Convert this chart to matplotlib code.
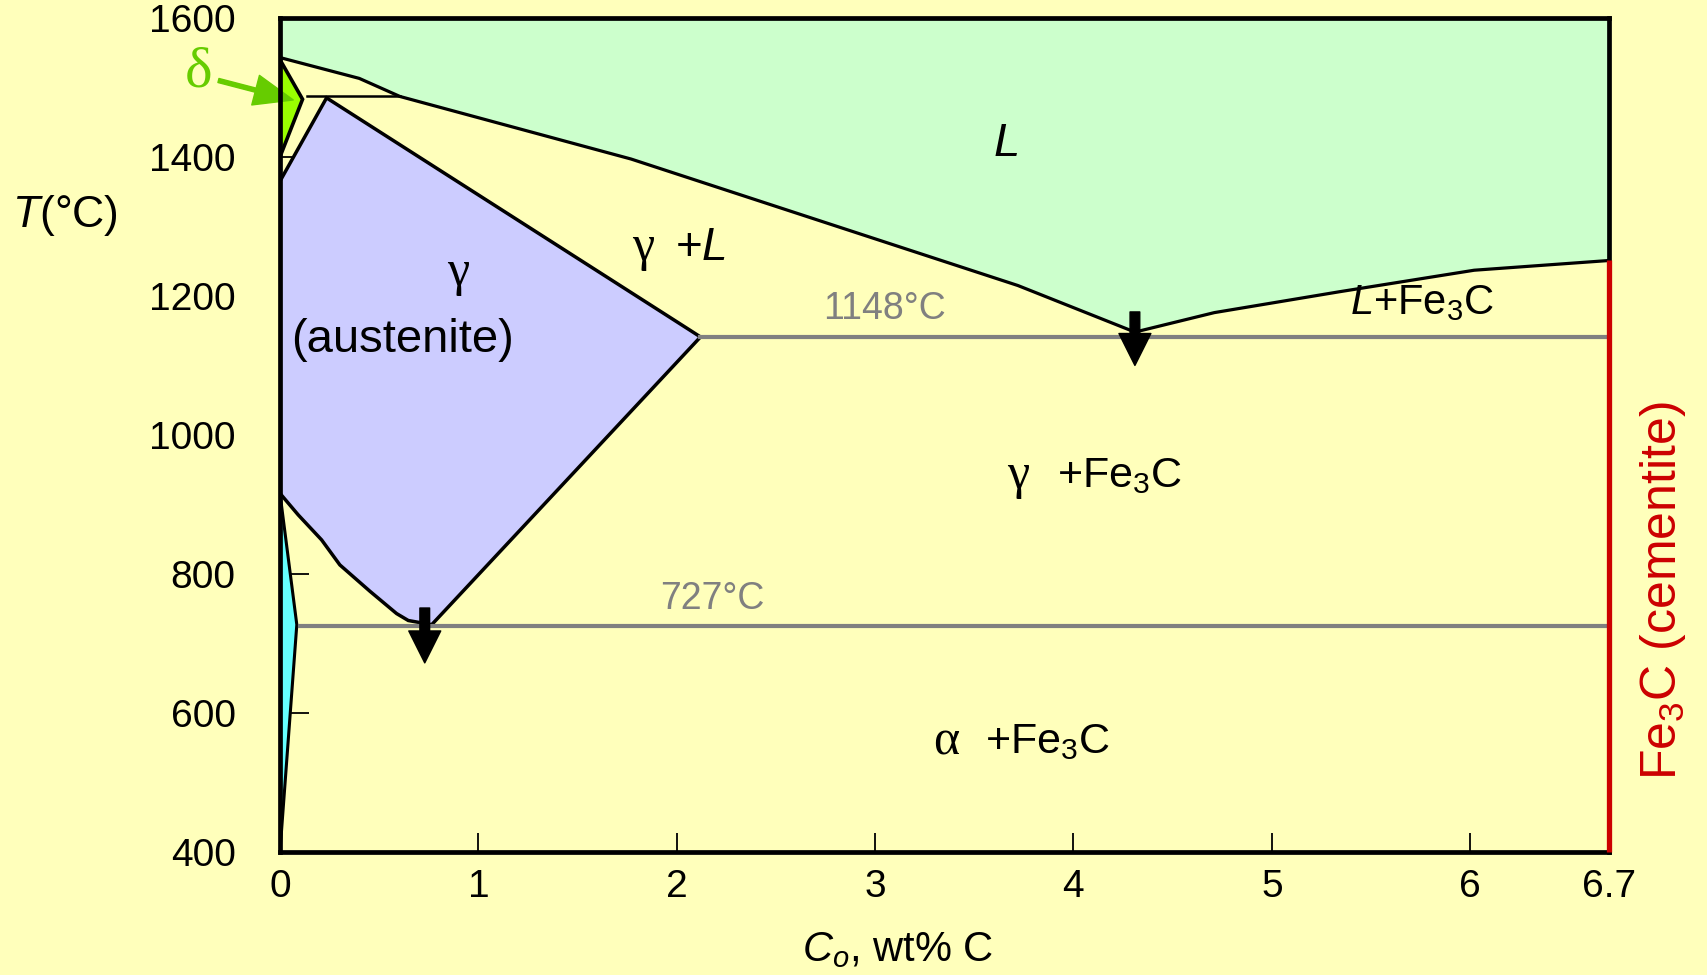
import matplotlib
matplotlib.use('Agg')
import matplotlib.pyplot as plt
from matplotlib.patches import Polygon

# ---------------- data ----------------
# liquidus (lower boundary of the liquid field)
liq_x = [0.0, 0.40, 0.605, 1.77, 3.72, 4.31, 4.71, 5.34, 6.02, 6.70]
liq_T = [1543, 1513, 1487, 1397, 1215, 1148, 1176, 1206, 1237, 1251]

# austenite (gamma) field outline
gam_x = [0.235, 2.06, 2.12, 0.765, 0.647, 0.588, 0.454, 0.302, 0.21, 0.092, 0.0, 0.0]
gam_T = [1485, 1152, 1141, 727, 733, 743, 775, 813, 849, 885, 916, 1365]

# ferrite (alpha) field outline
alp_x = [0.0, 0.085, 0.0]
alp_T = [916, 727, 400]

# delta ferrite field outline
del_x = [0.0, 0.114, 0.0]
del_T = [1540, 1483, 1400]

# peritectic line
per_x = [0.135, 0.605]
per_T = [1487, 1487]

# invariant lines
eut_x = [2.12, 6.7]
eut_T = [1141, 1141]
eud_x = [0.10, 6.7]
eud_T = [725, 725]

# cementite line
cem_x = [6.7, 6.7]
cem_T = [1251, 400]

# arrows (x, T_tail, T_tip)
arr_eutectoid = (0.73, 751, 672)
arr_eutectic = (4.31, 1177, 1100)

x_ticks = [0, 1, 2, 3, 4, 5, 6, 6.7]
x_ticklabels = ['0', '1', '2', '3', '4', '5', '6', '6.7']
y_ticks = [400, 600, 800, 1000, 1200, 1400, 1600]
y_ticklabels = ['400', '600', '800', '1000', '1200', '1400', '1600']

# ---------------- style ----------------
BG = '#FFFFBB'
plt.rcParams['font.family'] = ['Liberation Sans', 'DejaVu Sans']
plt.rcParams['mathtext.fontset'] = 'custom'
plt.rcParams['mathtext.rm'] = 'Liberation Sans'
plt.rcParams['mathtext.it'] = 'Liberation Sans:italic'
plt.rcParams['mathtext.bf'] = 'Liberation Sans:bold'

fig = plt.figure(figsize=(17.07, 9.75), dpi=100, facecolor=BG)
ax = fig.add_axes([0.164, 0.1262, 0.7786, 0.8554])
ax.set_facecolor(BG)
ax.set_xlim(0, 6.7)
ax.set_ylim(400, 1600)

# liquid field
liquid = list(zip(liq_x, liq_T))
liquid_poly = [(0, 1600), (6.7, 1600)] + liquid[::-1]
ax.add_patch(Polygon(liquid_poly, closed=True, facecolor='#CCFFCC', edgecolor='none', zorder=1))
ax.plot(liq_x, liq_T, color='black', lw=2.3, zorder=3)

# austenite
ax.add_patch(Polygon(list(zip(gam_x, gam_T)), closed=True, facecolor='#CCCCFF',
                     edgecolor='black', lw=2.5, zorder=2))
# alpha
ax.add_patch(Polygon(list(zip(alp_x, alp_T)), closed=True, facecolor='#66FFFF',
                     edgecolor='black', lw=2.2, zorder=2))
# delta
ax.add_patch(Polygon(list(zip(del_x, del_T)), closed=True, facecolor='#99FF00',
                     edgecolor='black', lw=2.6, zorder=2))

ax.plot(per_x, per_T, color='black', lw=1.8, zorder=3)
ax.plot(eut_x, eut_T, color='#808080', lw=3.0, zorder=3)
ax.plot(eud_x, eud_T, color='#808080', lw=3.0, zorder=3)

# arrows
for (xa, t0, t1) in (arr_eutectoid, arr_eutectic):
    ax.annotate('', xy=(xa, t1), xytext=(xa, t0),
                arrowprops=dict(width=7, headwidth=23, headlength=23, color='black', shrink=0),
                zorder=6)

# delta arrow + label
ax.annotate('', xy=(0.067, 1482), xytext=(-0.31, 1510), annotation_clip=False,
            arrowprops=dict(width=3, headwidth=22, headlength=28, color='#66CC00', shrink=0),
            zorder=6)
ax.text(-0.41, 1522, 'δ', color='#66CC00', fontsize=42, family='Liberation Serif',
        ha='center', va='center', clip_on=False)

# spines / ticks
for s in ax.spines.values():
    s.set_linewidth(3.4)
    s.set_color('black')
    s.set_zorder(7)
ax.plot(cem_x, cem_T, color='#CC0000', lw=3.8, zorder=8, clip_on=False, solid_capstyle='butt')

ax.set_xticks(x_ticks)
ax.set_xticklabels(x_ticklabels)
ax.set_yticks(y_ticks)
ax.set_yticklabels(y_ticklabels)
ax.tick_params(axis='x', direction='in', length=14, width=1.3, labelsize=28, pad=12)
ax.tick_params(axis='y', direction='in', length=21, width=1.3, labelsize=28, pad=32)

# region labels
ax.text(3.66, 1418, '$L$', fontsize=34, ha='center', va='center')
ax.text(1.83, 1269, 'γ', fontsize=36, family='Liberation Serif', ha='center', va='center')
ax.text(2.12, 1269, '+$L$', fontsize=33, ha='center', va='center')
ax.text(0.90, 1234, 'γ', fontsize=36, family='Liberation Serif', ha='center', va='center')
ax.text(0.62, 1137, '(austenite)', fontsize=34, ha='center', va='center')
ax.text(3.05, 1181, '1148°C', fontsize=27, color='#808080', ha='center', va='center')
ax.text(5.76, 1189, '$L$+Fe$_3$C', fontsize=30, ha='center', va='center')
ax.text(3.72, 941, 'γ', fontsize=36, family='Liberation Serif', ha='center', va='center')
ax.text(4.23, 941, '+Fe$_3$C', fontsize=31, ha='center', va='center')
ax.text(2.18, 764, '727°C', fontsize=27, color='#808080', ha='center', va='center')
ax.text(3.36, 558, 'α', fontsize=36, family='Liberation Serif', ha='center', va='center')
ax.text(3.87, 558, '+Fe$_3$C', fontsize=31, ha='center', va='center')

# cementite label
fig.text(1663 / 1707, 1 - 591 / 975, 'Fe$_3$C (cementite)', color='#CC0000', fontsize=36,
         rotation=90, ha='center', va='center')

# axis titles
fig.text(898 / 1707, 1 - 950 / 975, '$C_o$, wt% C', fontsize=30, ha='center', va='center')
fig.text(65 / 1707, 1 - 215 / 975, '$T$(°C)', fontsize=32, ha='center', va='center')

fig.savefig('out.png', dpi=100, facecolor=BG)
